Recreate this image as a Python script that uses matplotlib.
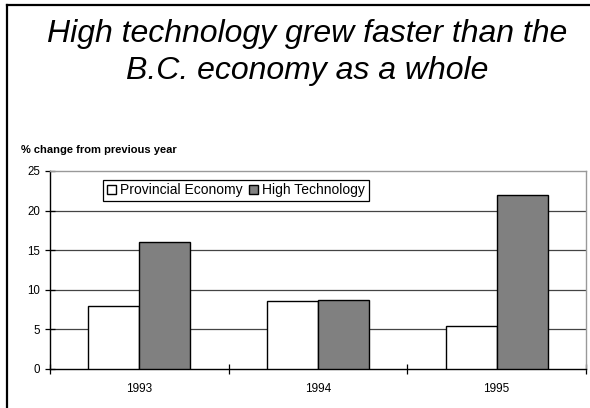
import numpy as np
import matplotlib
matplotlib.use('Agg')
import matplotlib.pyplot as plt
from matplotlib.lines import Line2D

plt.rcParams['font.family'] = ['Liberation Sans', 'DejaVu Sans']

years = ['1993', '1994', '1995']
provincial = [7.9, 8.55, 5.4]
high_tech = [16.0, 8.65, 22.0]
series_names = ['Provincial Economy', 'High Technology']


def draw():
    fig = plt.figure(figsize=(5.9, 4.08), dpi=100)
    ax = fig.add_axes([0.0847, 0.0956, 0.9085, 0.4853])

    x = np.arange(len(years))
    w = 0.285
    ax.bar(x - w / 2, provincial, w, color='white', edgecolor='black', lw=1.0,
           label=series_names[0], zorder=3)
    ax.bar(x + w / 2, high_tech, w, color='#808080', edgecolor='black', lw=1.0,
           label=series_names[1], zorder=3)

    ax.set_xlim(-0.5, len(years) - 0.5)
    ax.set_ylim(0, 25)
    ax.set_yticks(np.arange(0, 26, 5))
    for v in range(5, 25, 5):
        ax.axhline(v, color='#444444', lw=0.9, zorder=1)

    # category boundaries carry the tick marks, labels sit between them
    ax.set_xticks(np.arange(-0.5, len(years), 1.0))
    ax.set_xticklabels([])
    ax.set_xticks(x, minor=True)
    ax.set_xticklabels(years, minor=True)
    ax.tick_params(axis='x', which='major', direction='inout', length=6.5, width=0.9)
    ax.tick_params(axis='x', which='minor', length=0, pad=10, labelsize=8.5)
    ax.tick_params(axis='y', direction='inout', length=6.5, width=0.9, pad=4,
                   labelsize=8.3)

    for s in ['left', 'bottom']:
        ax.spines[s].set_color('black')
        ax.spines[s].set_linewidth(1.0)
    for s in ['top', 'right']:
        ax.spines[s].set_color('#999999')
        ax.spines[s].set_linewidth(1.0)

    leg = ax.legend(loc='upper left', bbox_to_anchor=(0.099, 0.955), ncol=2,
                    fontsize=10, frameon=True, fancybox=False, shadow=False,
                    borderaxespad=0, borderpad=0.25, handlelength=0.7,
                    handleheight=0.7, handletextpad=0.3, columnspacing=0.4)
    leg.get_frame().set_edgecolor('black')
    leg.get_frame().set_linewidth(0.9)
    leg.get_frame().set_alpha(1)

    fig.text(307 / 590, 1 - 42 / 408, 'High technology grew faster than the',
             ha='center', va='baseline', fontsize=23, style='italic')
    fig.text(307 / 590, 1 - 79 / 408, 'B.C. economy as a whole',
             ha='center', va='baseline', fontsize=23, style='italic')
    fig.text(21 / 590, 1 - 153 / 408, '% change from previous year',
             ha='left', va='baseline', fontsize=8, fontweight='bold')

    # frame lines on the left and top edge of the picture
    fig.add_artist(Line2D([7 / 590, 7 / 590], [0, 1 - 5 / 408],
                          transform=fig.transFigure, color='black', lw=1.6))
    fig.add_artist(Line2D([7 / 590, 1], [1 - 5 / 408, 1 - 5 / 408],
                          transform=fig.transFigure, color='black', lw=1.6))

    fig.savefig('out.png', dpi=100)


if __name__ == '__main__':
    draw()
